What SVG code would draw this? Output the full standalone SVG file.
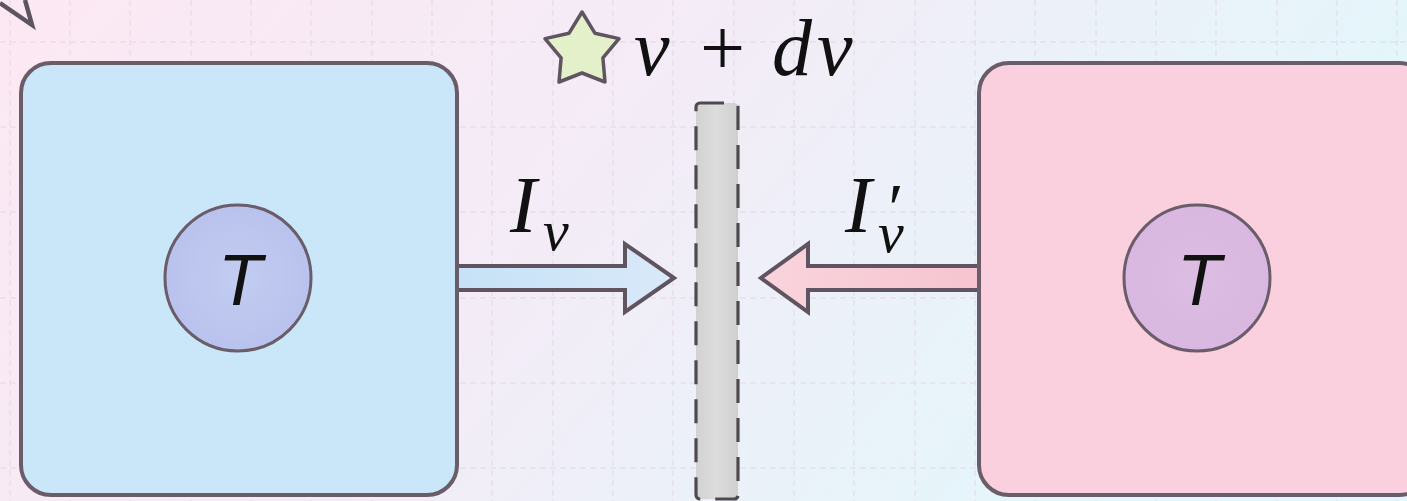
<svg xmlns="http://www.w3.org/2000/svg" width="1407" height="501" viewBox="0 0 1407 501">
  <defs>
    <linearGradient id="bg" x1="0" y1="0" x2="1" y2="0.3">
      <stop offset="0" stop-color="#fce8f3"/>
      <stop offset="0.5" stop-color="#f3ecf7"/>
      <stop offset="1" stop-color="#e2f7fb"/>
    </linearGradient>
    <linearGradient id="arrowBlue" x1="0" y1="0" x2="1" y2="0">
      <stop offset="0" stop-color="#c6e2f6"/>
      <stop offset="1" stop-color="#d9e9f9"/>
    </linearGradient>
    <linearGradient id="arrowPink" x1="0" y1="0" x2="1" y2="0">
      <stop offset="0" stop-color="#f9d4dc"/>
      <stop offset="1" stop-color="#f6c4cf"/>
    </linearGradient>
    <radialGradient id="circBlue" cx="0.5" cy="0.5" r="0.6">
      <stop offset="0" stop-color="#c3cdf1"/>
      <stop offset="1" stop-color="#b6c0ec"/>
    </radialGradient>
    <radialGradient id="circPurple" cx="0.5" cy="0.5" r="0.6">
      <stop offset="0" stop-color="#dcbde2"/>
      <stop offset="1" stop-color="#d8b6e0"/>
    </radialGradient>
    <linearGradient id="strip" x1="0" y1="0" x2="1" y2="0">
      <stop offset="0" stop-color="#d2d2d2"/>
      <stop offset="0.5" stop-color="#dcdcdc"/>
      <stop offset="1" stop-color="#cfcfcf"/>
    </linearGradient>
  </defs>
  <style>
    .grid { stroke: #e2d9e6; stroke-width: 1; stroke-dasharray: 6 4; fill: none; }
    .box { stroke: #6a5d69; stroke-width: 4; }
    .circ { stroke: #6a5d69; stroke-width: 3; }
    .arrow { stroke: #5f5460; stroke-width: 4; stroke-linejoin: miter; }
    .serif { font-family: "Liberation Serif", "DejaVu Serif", serif; font-style: italic; fill: #111; }
    .up { font-style: normal; }
    .tlabel { font-family: "Liberation Sans", Arial, sans-serif; font-style: italic; font-size: 72px; fill: #111; text-anchor: middle; }
  </style>

  <rect x="0" y="0" width="1407" height="501" fill="url(#bg)"/>

  <g id="grid">
    <path class="grid" d="M10,0V501 M70,0V501 M130,0V501 M191,0V501 M251,0V501 M311,0V501 M372,0V501 M432,0V501 M492,0V501 M553,0V501 M613,0V501 M673,0V501 M734,0V501 M794,0V501 M854,0V501 M915,0V501 M975,0V501 M1035,0V501 M1096,0V501 M1156,0V501 M1216,0V501 M1277,0V501 M1337,0V501 M1397,0V501"/>
    <path class="grid" d="M0,42H1407 M0,127H1407 M0,212H1407 M0,298H1407 M0,383H1407 M0,468H1407"/>
  </g>

  <g id="corner-arrow">
    <path d="M0,3 L32,25 L25,0" fill="none" stroke="#5e5460" stroke-width="4.5" stroke-linejoin="miter"/>
  </g>

  <g id="connectors">
    <path class="arrow" fill="url(#arrowBlue)" d="M457,266 L625,266 L625,244 L674,278 L625,312 L625,290 L457,290 Z"/>
    <path class="arrow" fill="url(#arrowPink)" d="M979,266 L808,266 L808,244 L761,278 L808,312 L808,290 L979,290 Z"/>
  </g>

  <g id="left-box">
    <rect class="box" x="21" y="63" width="436" height="432" rx="30" ry="30" fill="#c9e7f9"/>
  </g>
  <g id="left-T">
    <circle class="circ" cx="238" cy="278" r="73" fill="url(#circBlue)"/>
    <text class="tlabel" x="240" y="305">T</text>
  </g>

  <g id="right-box">
    <rect class="box" x="979" y="63" width="450" height="432" rx="30" ry="30" fill="#fbd0de"/>
  </g>
  <g id="right-T">
    <circle class="circ" cx="1197" cy="278" r="73" fill="url(#circPurple)"/>
    <text class="tlabel" x="1199" y="305">T</text>
  </g>

  <g id="slab">
    <rect x="696" y="103" width="42" height="396" rx="4" ry="4" fill="url(#strip)" stroke="#4f4a50" stroke-width="3.2" stroke-dasharray="24 15"/>
  </g>

  <g id="frequency-label">
    <path d="M582,12 L594.9,33.2 L619,38.6 L602.9,57.8 L605,82 L582,73 L559,82 L561.1,57.8 L545,38.6 L569.1,33.2 Z" fill="#e4f0c9" stroke="#5f5560" stroke-width="3.5" stroke-linejoin="round"/>
    <text class="serif" font-size="80" y="75"><tspan x="634">ν</tspan><tspan class="up" x="700">+</tspan><tspan x="772">d</tspan><tspan x="817">ν</tspan></text>
  </g>

  <g id="label-I">
    <text class="serif" font-size="80" x="510" y="232">I<tspan font-size="58" x="543" y="250">ν</tspan></text>
  </g>
  <g id="label-Iprime">
    <text class="serif" font-size="80" x="845" y="232">I<tspan font-size="70" x="884" y="232">′</tspan><tspan font-size="58" x="878" y="252">ν</tspan></text>
  </g>
</svg>
